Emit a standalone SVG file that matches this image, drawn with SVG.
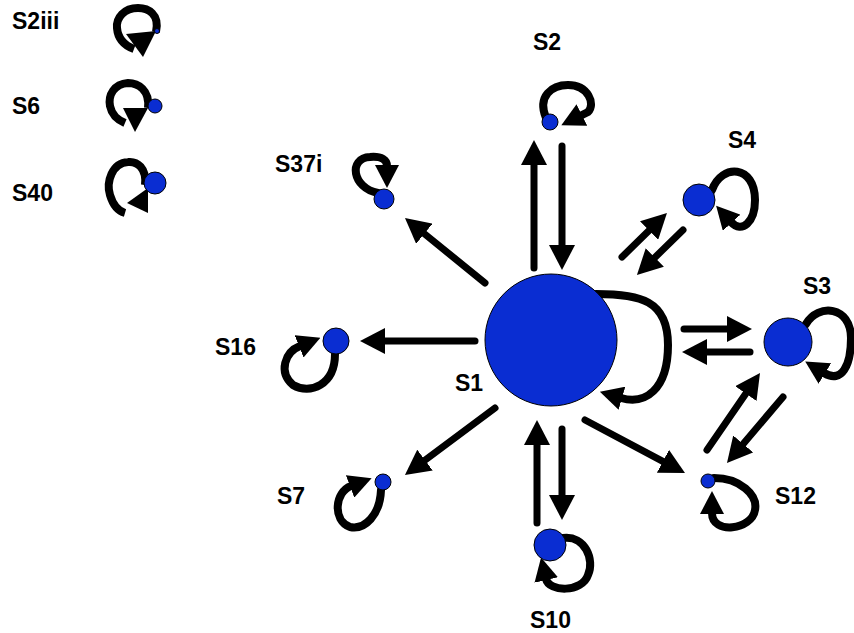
<svg xmlns="http://www.w3.org/2000/svg" width="854" height="633" viewBox="0 0 854 633">
<style>
.lbl{font-family:"Liberation Sans",Arial,sans-serif;font-weight:bold;font-size:23px;fill:#000}
.node{fill:#0a2dd2;stroke:#000;stroke-width:1}
.arr{stroke:#000;stroke-width:7;fill:none;stroke-linecap:round;marker-end:url(#hl)}
.loop{stroke:#000;stroke-width:8;fill:none;stroke-linecap:round;marker-end:url(#hs)}
.ring{stroke:#000;stroke-width:8;fill:none}
.hd{fill:#000}
</style>
<defs>
<marker id="hl" markerUnits="userSpaceOnUse" viewBox="0 0 25 26" markerWidth="25" markerHeight="26" refX="1" refY="13" orient="auto"><path d="M0,0 L25,13 L0,26 Z" fill="#000"/></marker>
<marker id="hs" markerUnits="userSpaceOnUse" viewBox="0 0 23 24" markerWidth="23" markerHeight="24" refX="1" refY="12" orient="auto"><path d="M0,0 L23,12 L0,24 Z" fill="#000"/></marker>
</defs>
<g id="connectors">
<line class="arr" x1="534" y1="268" x2="534" y2="164"/>
<line class="arr" x1="562" y1="146" x2="562" y2="246"/>
<line class="arr" x1="485" y1="283" x2="423.6" y2="233.1"/>
<line class="arr" x1="622" y1="257" x2="649.8" y2="229.8"/>
<line class="arr" x1="683" y1="230" x2="654.1" y2="258.2"/>
<line class="arr" x1="684" y1="329" x2="728" y2="329"/>
<line class="arr" x1="750" y1="352" x2="706" y2="352"/>
<line class="arr" x1="707" y1="450" x2="746.4" y2="392.8"/>
<line class="arr" x1="783" y1="397" x2="742.5" y2="444.7"/>
<line class="arr" x1="585" y1="420" x2="663.8" y2="461.8"/>
<line class="arr" x1="537" y1="523" x2="537" y2="444"/>
<line class="arr" x1="562" y1="429" x2="562" y2="496"/>
<line class="arr" x1="475" y1="341" x2="384" y2="341"/>
<line class="arr" x1="495" y1="408" x2="424.2" y2="460.7"/>
<path class="loop" d="M596,294 C640,294 668,300 668,345 C668,390 645,405 621,398"/>
<path class="loop" d="M546,118 C537,96 552,85 568,85 C588,85 596,104 588,112 L581,115.5"/>
<path class="loop" d="M378,193 C352,188 348,158 370,157 C382,156 387,160 387,166"/>
<path class="loop" d="M712,190 C722,163 755,165 755,200 C755,222 742,234 731,222"/>
<path class="loop" d="M806,324 C818,303 851,306 851,338 C851,365 842,384 824,373"/>
<path class="loop" d="M714,478 C740,478 758,495 755,510 C752,530 712,535 712,513"/>
<path class="loop" d="M563,538 C585,535 595,560 588,575 C582,593 549,592 546,579"/>
<path class="loop" d="M335,354 C335,385 310,395 293,385 C278,372 285,352 300,346"/>
<path class="loop" d="M381,490 C380,515 365,530 350,527 C332,520 335,492 351,486"/>
</g>
<g id="S1"><circle class="node" cx="551" cy="340" r="66"/><text class="lbl" x="455" y="391">S1</text></g>
<g id="S2"><circle class="node" cx="550" cy="122" r="8"/><text class="lbl" x="533" y="50">S2</text></g>
<g id="S37i"><circle class="node" cx="384" cy="199" r="10"/><text class="lbl" x="275" y="172">S37i</text></g>
<g id="S4"><circle class="node" cx="699" cy="200" r="16"/><text class="lbl" x="728" y="148">S4</text></g>
<g id="S3"><circle class="node" cx="788" cy="342" r="24"/><text class="lbl" x="803" y="294">S3</text></g>
<g id="S12"><circle class="node" cx="708" cy="481" r="7"/><text class="lbl" x="775" y="504">S12</text></g>
<g id="S10"><circle class="node" cx="550" cy="545" r="16"/><text class="lbl" x="530" y="628">S10</text></g>
<g id="S16"><circle class="node" cx="336" cy="341" r="13"/><text class="lbl" x="215" y="355">S16</text></g>
<g id="S7"><circle class="node" cx="383" cy="482" r="8"/><text class="lbl" x="277" y="504">S7</text></g>
<g id="S2iii">
<path class="ring" d="M156,32 C160,14 148,8 138,8 C124,8 116,18 117,28 C118,40 126,46 134,49"/>
<polygon class="hd" points="126,34 156,31 143,57"/>
<circle class="node" cx="157" cy="31" r="2.5" stroke-width="0.5"/>
<text class="lbl" x="12" y="29">S2iii</text>
</g>
<g id="S6">
<path class="ring" d="M148,108 C150,90 138,83 128,83 C114,84 108,95 110,106 C112,116 118,120 125,123"/>
<polygon class="hd" points="123,108 148,108 135,132"/>
<circle class="node" cx="155" cy="106" r="7"/>
<text class="lbl" x="12" y="114">S6</text>
</g>
<g id="S40">
<path class="ring" d="M145,185 C147,168 137,161 128,162 C112,163 106,182 110,195 C113,205 118,211 125,213"/>
<polygon class="hd" points="127,203 148,188 148,213"/>
<circle class="node" cx="155" cy="183" r="11"/>
<text class="lbl" x="12" y="201">S40</text>
</g>
</svg>
